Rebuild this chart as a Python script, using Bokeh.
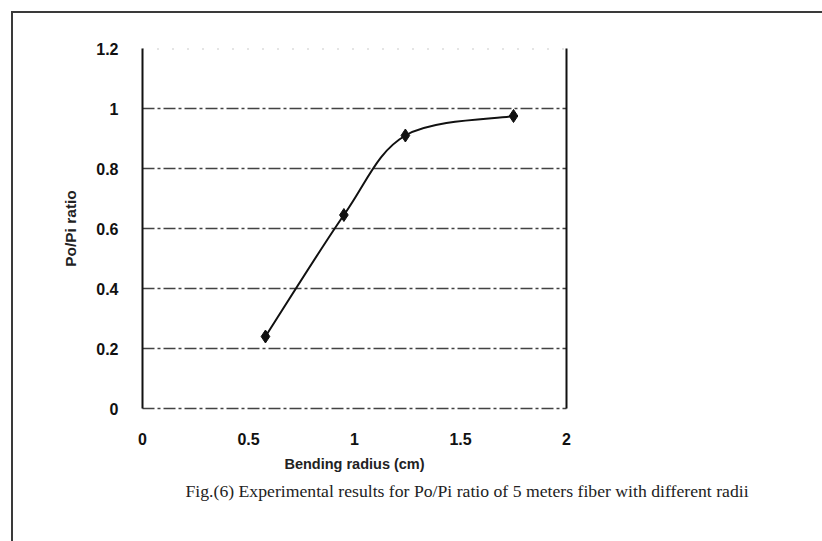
from bokeh.plotting import figure
from bokeh.models import FixedTicker, LinearAxis, Title, Range1d, Span
from bokeh.embed import file_html
from bokeh.resources import INLINE

# ---- data ----
bend_radius = [0.58, 0.95, 1.24, 1.75]
po_pi_ratio = [0.24, 0.645, 0.91, 0.975]
x_ticks = [0, 0.5, 1, 1.5, 2]
x_tick_labels = ["0", "0.5", "1", "1.5", "2"]
y_ticks = [0, 0.2, 0.4, 0.6, 0.8, 1.0, 1.2]
y_tick_labels = ["0", "0.2", "0.4", "0.6", "0.8", "1", "1.2"]
x_label = "Bending radius (cm)"
y_label = "Po/Pi ratio"
caption = "Fig.(6) Experimental results for Po/Pi ratio of 5 meters fiber with different radii"

p = figure(width=822, height=541, x_range=Range1d(0, 2), y_range=Range1d(0, 1.2),
           output_backend="svg", toolbar_location=None,
           min_border_left=142, min_border_right=256, min_border_top=48, min_border_bottom=133)
p.outline_line_color = None
p.background_fill_color = "white"
p.border_fill_alpha = 0
# scanned page frame: thin left and top border lines
p.styles = {"box-shadow": "inset 11px 11px 0 0 #ffffff, inset 13px 13px 0 0 #3a3a3a",
            "background-color": "#ffffff"}

grid_color = "#222222"
grid_dash = "12 3 3 3"

# x axis
ax = p.xaxis[0]
ax.ticker = FixedTicker(ticks=x_ticks)
ax.major_label_overrides = {t: l for t, l in zip(x_ticks, x_tick_labels)}
ax.axis_line_color = grid_color
ax.axis_line_width = 1.3
ax.axis_line_dash = grid_dash
ax.axis_line_alpha = 0.85
ax.major_tick_line_color = None
ax.minor_tick_line_color = None
ax.major_label_standoff = 18
ax.major_label_text_font = "Liberation Sans"
ax.major_label_text_font_style = "bold"
ax.major_label_text_font_size = "16px"
ax.major_label_text_color = "#111111"
ax.axis_label = x_label
ax.axis_label_text_font = "Liberation Sans"
ax.axis_label_text_font_style = "bold"
ax.axis_label_text_font_size = "14.5px"
ax.axis_label_text_color = "#222222"
ax.axis_label_standoff = 8

# y axis
ay = p.yaxis[0]
ay.ticker = FixedTicker(ticks=y_ticks)
ay.major_label_overrides = {t: l for t, l in zip(y_ticks, y_tick_labels)}
ay.axis_line_color = "#111111"
ay.axis_line_width = 2
ay.major_tick_line_color = None
ay.minor_tick_line_color = None
ay.major_label_standoff = 18
ay.major_label_text_font = "Liberation Sans"
ay.major_label_text_font_style = "bold"
ay.major_label_text_font_size = "16px"
ay.major_label_text_color = "#111111"
ay.axis_label = y_label
ay.axis_label_text_font = "Liberation Sans"
ay.axis_label_text_font_style = "bold"
ay.axis_label_text_font_size = "15.5px"
ay.axis_label_text_color = "#222222"
ay.axis_label_standoff = 14

# right frame line
right = LinearAxis(ticker=FixedTicker(ticks=[]), axis_line_color="#111111", axis_line_width=2,
                   major_tick_line_color=None, minor_tick_line_color=None,
                   major_label_text_font_size="0px")
p.add_layout(right, "right")

# grid
p.xgrid.grid_line_color = None
p.ygrid.ticker = FixedTicker(ticks=y_ticks[1:-1])
p.ygrid.grid_line_color = grid_color
p.ygrid.grid_line_width = 1.3
p.ygrid.grid_line_dash = grid_dash
p.ygrid.grid_line_alpha = 0.85
p.add_layout(Span(location=y_ticks[-1], dimension="width", line_color="#555555",
                  line_dash="1 14", line_width=2, line_alpha=0.6))

# smoothed curve (Catmull-Rom style Bezier, like spreadsheet smoothing)
n = len(bend_radius)
seg = dict(x0=[], y0=[], x1=[], y1=[], cx0=[], cy0=[], cx1=[], cy1=[])
for i in range(n - 1):
    a = max(i - 1, 0)
    b = min(i + 2, n - 1)
    seg["x0"].append(bend_radius[i]); seg["y0"].append(po_pi_ratio[i])
    seg["x1"].append(bend_radius[i + 1]); seg["y1"].append(po_pi_ratio[i + 1])
    seg["cx0"].append(bend_radius[i] + (bend_radius[i + 1] - bend_radius[a]) / 6)
    seg["cy0"].append(po_pi_ratio[i] + (po_pi_ratio[i + 1] - po_pi_ratio[a]) / 6)
    seg["cx1"].append(bend_radius[i + 1] - (bend_radius[b] - bend_radius[i]) / 6)
    seg["cy1"].append(po_pi_ratio[i + 1] - (po_pi_ratio[b] - po_pi_ratio[i]) / 6)
p.bezier(source=seg, x0="x0", y0="y0", x1="x1", y1="y1", cx0="cx0", cy0="cy0",
         cx1="cx1", cy1="cy1", line_color="#111111", line_width=2)
p.scatter(bend_radius, po_pi_ratio, marker="diamond", size=13, fill_color="#111111",
          line_color="#111111")

# caption
p.add_layout(Title(text=caption, align="left", offset=43, text_font="Liberation Serif",
                   text_font_size="17.7px", text_font_style="normal", text_color="#222222",
                   standoff=8), "below")

open("out.html", "w").write(file_html(p, INLINE))
